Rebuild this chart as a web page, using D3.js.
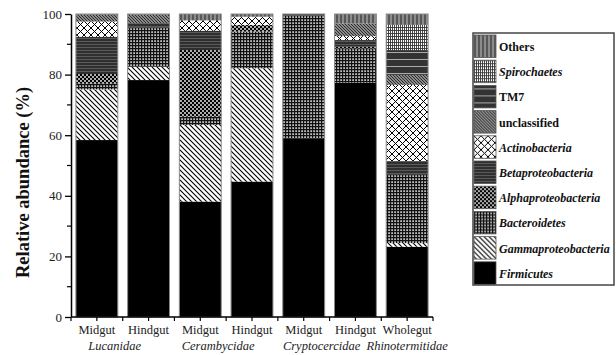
<!DOCTYPE html>
<html>
<head>
<meta charset="utf-8">
<script src="https://cdn.jsdelivr.net/npm/d3@7"></script>
<style>
  html, body { margin: 0; padding: 0; background: #fff; }
  svg { display: block; }
</style>
</head>
<body>
<svg id="chart" width="616" height="355"></svg>
<script>
// categories (left to right)
const tissues = ['Midgut', 'Hindgut', 'Midgut', 'Hindgut', 'Midgut', 'Hindgut', 'Wholegut'];
const families = ['Lucanidae', 'Lucanidae', 'Cerambycidae', 'Cerambycidae', 'Cryptocercidae', 'Cryptocercidae', 'Rhinotermitidae'];

// taxa, stacked bottom to top
const taxa = ['Firmicutes', 'Gammaproteobacteria', 'Bacteroidetes', 'Alphaproteobacteria', 'Betaproteobacteria',
              'Actinobacteria', 'unclassified', 'TM7', 'Spirochaetes', 'Others'];
const italicTaxa = ['Firmicutes', 'Gammaproteobacteria', 'Bacteroidetes', 'Alphaproteobacteria', 'Betaproteobacteria',
                    'Actinobacteria', 'Spirochaetes'];

// relative abundance (%) per taxon, one value per category
const firmicutes    = [58.4, 78.2, 38.1, 44.7, 59.0, 77.3, 23.2];
const gamma         = [16.7,  4.4, 25.3, 37.4,  0.0,  0.0,  1.2];
const bacteroidetes = [ 1.9, 13.0,  2.7, 12.1, 40.5, 11.4, 22.5];
const alpha         = [ 3.2,  0.0, 22.0,  2.2,  0.0,  0.5,  0.0];
const beta          = [12.3,  1.4,  6.4,  0.0,  0.0,  2.2,  4.6];
const actino        = [ 5.0,  0.0,  3.4,  2.7,  0.0,  1.3, 25.1];
const unclassified  = [ 2.2,  2.7,  0.0,  0.0,  0.0,  4.2,  3.3];
const tm7           = [ 0.0,  0.0,  0.0,  0.0,  0.5,  0.0,  8.2];
const spirochaetes  = [ 0.0,  0.0,  0.0,  0.0,  0.0,  0.0,  8.3];
const others        = [ 0.3,  0.3,  2.1,  0.9,  0.0,  3.1,  3.6];

const series = [firmicutes, gamma, bacteroidetes, alpha, beta, actino, unclassified, tm7, spirochaetes, others];
const yTicks = [0, 20, 40, 60, 80, 100];

const FONT = "'Liberation Serif'";

const keys = tissues.map((t, i) => i);
const table = keys.map(i => {
  const row = { idx: i };
  taxa.forEach((tx, k) => { row[tx] = series[k][i]; });
  return row;
});

const svg = d3.select('#chart');
const defs = svg.append('defs');

// fill patterns
function pattern(id, w, h, bg, draw) {
  const p = defs.append('pattern')
    .attr('id', id)
    .attr('patternUnits', 'userSpaceOnUse')
    .attr('width', w)
    .attr('height', h);
  p.append('rect').attr('width', w).attr('height', h).attr('fill', bg);
  draw(p);
}

pattern('p-Firmicutes', 4, 4, '#000', () => {});
pattern('p-Gammaproteobacteria', 5, 5, '#fff', p => {
  p.append('path').attr('d', 'M0,0 L5,5 M-1,4 L1,6 M4,-1 L6,1')
    .attr('stroke', '#000').attr('stroke-width', 1.1);
});
pattern('p-Bacteroidetes', 3, 3, '#bdbdbd', p => {
  p.append('path').attr('d', 'M0,0.6 H3 M0.6,0 V3')
    .attr('stroke', '#111').attr('stroke-width', 1.2);
});
pattern('p-Alphaproteobacteria', 4, 4, '#000', p => {
  p.append('circle').attr('cx', 1).attr('cy', 1).attr('r', 0.9).attr('fill', '#fff');
  p.append('circle').attr('cx', 3).attr('cy', 3).attr('r', 0.9).attr('fill', '#fff');
});
pattern('p-Betaproteobacteria', 4, 3, '#5a5a5a', p => {
  p.append('path').attr('d', 'M0,1 H4').attr('stroke', '#111').attr('stroke-width', 1.2);
});
pattern('p-Actinobacteria', 7, 7, '#fff', p => {
  p.append('path').attr('d', 'M0,0 L7,7 M7,0 L0,7 M-1,6 L1,8 M6,-1 L8,1 M-1,1 L1,-1 M6,8 L8,6')
    .attr('stroke', '#000').attr('stroke-width', 1);
});
pattern('p-unclassified', 3, 3, '#8a8a8a', p => {
  p.append('path').attr('d', 'M0,0 L3,3 M-1,2 L1,4 M2,-1 L4,1')
    .attr('stroke', '#222').attr('stroke-width', 0.9);
});
pattern('p-TM7', 4, 7, '#333', p => {
  p.append('path').attr('d', 'M0,3.5 H4').attr('stroke', '#aaa').attr('stroke-width', 1);
});
pattern('p-Spirochaetes', 4, 3, '#fff', p => {
  p.append('path').attr('d', 'M0,0.5 H4 M0.5,0 V3 M2.5,0 V3')
    .attr('stroke', '#333').attr('stroke-width', 0.9);
});
pattern('p-Others', 4, 4, '#8c8c8c', p => {
  p.append('path').attr('d', 'M1,0 V4').attr('stroke', '#333').attr('stroke-width', 1.2);
});

// scales
const x = d3.scaleBand()
  .domain(keys)
  .range([71, 433])
  .paddingInner(0.19)
  .paddingOuter(0.095);

const y = d3.scaleLinear()
  .domain([0, 100])
  .range([317, 14]);

const stack = d3.stack().keys(taxa);
const stacked = stack(table);

// bars
const layers = svg.append('g')
  .selectAll('g')
  .data(stacked)
  .join('g')
  .attr('fill', d => `url(#p-${d.key})`);

layers.selectAll('rect')
  .data(d => d)
  .join('rect')
  .attr('x', d => x(d.data.idx))
  .attr('width', x.bandwidth())
  .attr('y', d => y(d[1]))
  .attr('height', d => Math.max(0, y(d[0]) - y(d[1])));

// bar outlines
svg.append('g')
  .selectAll('rect')
  .data(table)
  .join('rect')
  .attr('x', d => x(d.idx))
  .attr('width', x.bandwidth())
  .attr('y', d => y(d3.sum(taxa, t => d[t])))
  .attr('height', d => y(0) - y(d3.sum(taxa, t => d[t])))
  .attr('fill', 'none')
  .attr('stroke', '#8a8a8a')
  .attr('stroke-width', 1);

// y axis
const yAxis = svg.append('g')
  .attr('transform', `translate(${x.range()[0]},0)`)
  .call(d3.axisLeft(y).tickValues(yTicks).tickSize(6).tickPadding(3).tickSizeOuter(0));
yAxis.select('.domain').attr('stroke', '#000').attr('stroke-width', 1.5);
yAxis.selectAll('.tick line').attr('stroke', '#000').attr('stroke-width', 1.3);
yAxis.selectAll('.tick text')
  .style('font-family', FONT)
  .style('font-size', '13px')
  .attr('fill', '#222');

// minor y ticks
svg.append('g')
  .selectAll('line')
  .data(d3.range(10, 100, 20))
  .join('line')
  .attr('x1', x.range()[0] - 4)
  .attr('x2', x.range()[0])
  .attr('y1', d => y(d))
  .attr('y2', d => y(d))
  .attr('stroke', '#000')
  .attr('stroke-width', 1.2);

// x axis line
svg.append('line')
  .attr('x1', x.range()[0])
  .attr('x2', x.range()[1])
  .attr('y1', y(0))
  .attr('y2', y(0))
  .attr('stroke', '#000')
  .attr('stroke-width', 1.5);

// x ticks at band edges and centres
const step = x.step();
const xTickPos = d3.range(0, keys.length * 2 + 1).map(k => x.range()[0] + k * step / 2);
svg.append('g')
  .selectAll('line')
  .data(xTickPos)
  .join('line')
  .attr('x1', d => d)
  .attr('x2', d => d)
  .attr('y1', y(0))
  .attr('y2', y(0) + 4)
  .attr('stroke', '#000')
  .attr('stroke-width', 1.2);

// tissue labels
svg.append('g')
  .selectAll('text')
  .data(keys)
  .join('text')
  .attr('x', d => x(d) + x.bandwidth() / 2)
  .attr('y', 334)
  .attr('text-anchor', 'middle')
  .style('font-family', FONT)
  .style('font-size', '12.5px')
  .attr('fill', '#222')
  .text(d => tissues[d]);

// family labels
const famGroups = d3.groups(keys, k => families[k]);
svg.append('g')
  .selectAll('text')
  .data(famGroups)
  .join('text')
  .attr('x', ([, ks]) => {
    const c = d3.mean(ks, k => x(k) + x.bandwidth() / 2);
    return ks.length > 1 ? c - 8 : c;
  })
  .attr('y', 350)
  .attr('text-anchor', 'middle')
  .style('font-family', FONT)
  .style('font-size', '12.5px')
  .style('font-style', 'italic')
  .attr('fill', '#222')
  .text(([f]) => f);

// y axis title
svg.append('text')
  .attr('transform', `translate(29,${(y(0) + y(100)) / 2 + 17}) rotate(-90)`)
  .attr('text-anchor', 'middle')
  .style('font-family', FONT)
  .style('font-size', '18.5px')
  .style('font-weight', 'bold')
  .attr('fill', '#111')
  .text('Relative abundance (%)');

// legend
const legend = svg.append('g');
legend.append('rect')
  .attr('x', 473)
  .attr('y', 33)
  .attr('width', 141)
  .attr('height', 252)
  .attr('fill', '#fff')
  .attr('stroke', '#444')
  .attr('stroke-width', 1.5);

const legendOrder = taxa.slice().reverse();
const li = legend.selectAll('g.item')
  .data(legendOrder)
  .join('g')
  .attr('class', 'item')
  .attr('transform', (d, i) => `translate(474,${35 + i * 25.2})`);

li.append('rect')
  .attr('width', 22)
  .attr('height', 22.5)
  .attr('fill', d => `url(#p-${d})`)
  .attr('stroke', '#555')
  .attr('stroke-width', 0.8);

li.append('text')
  .attr('x', 25)
  .attr('y', 16)
  .style('font-family', FONT)
  .style('font-size', '12px')
  .style('font-weight', 'bold')
  .style('font-style', d => italicTaxa.includes(d) ? 'italic' : 'normal')
  .attr('fill', '#111')
  .text(d => d);
</script>
</body>
</html>
